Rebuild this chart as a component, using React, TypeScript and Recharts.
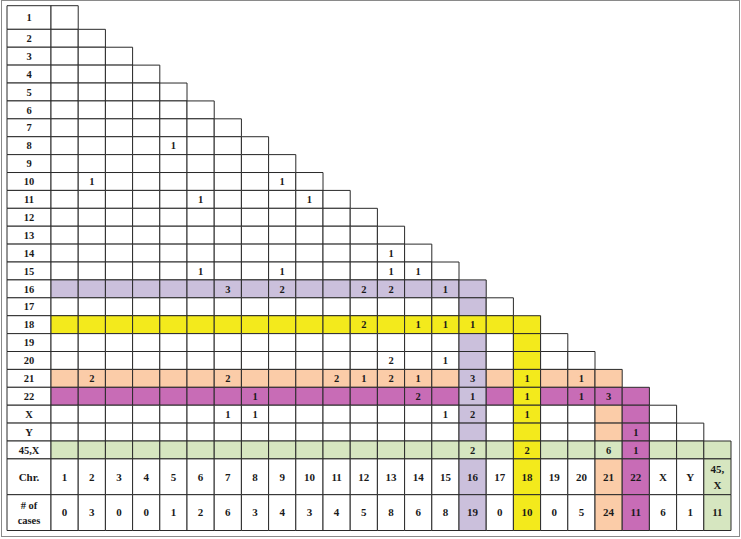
import React from 'react';
import { ScatterChart, Scatter, XAxis, YAxis, ReferenceArea } from 'recharts';

// chromosomes in row / column order
const chromosomes = [
  '1', '2', '3', '4', '5', '6', '7', '8', '9', '10', '11', '12', '13', '14', '15',
  '16', '17', '18', '19', '20', '21', '22', 'X', 'Y', '45,X',
];

// # of cases per chromosome (bottom row)
const caseCounts = [0, 3, 0, 0, 1, 2, 6, 3, 4, 3, 4, 5, 8, 6, 8, 19, 0, 10, 0, 5, 24, 11, 6, 1, 11];

// [row chromosome, column chromosome, count]
const pairCounts: [string, string, number][] = [
  ['8', '5', 1],
  ['10', '2', 1], ['10', '9', 1],
  ['11', '6', 1], ['11', '10', 1],
  ['14', '13', 1],
  ['15', '6', 1], ['15', '9', 1], ['15', '13', 1], ['15', '14', 1],
  ['16', '7', 3], ['16', '9', 2], ['16', '12', 2], ['16', '13', 2], ['16', '15', 1],
  ['18', '12', 2], ['18', '14', 1], ['18', '15', 1], ['18', '16', 1],
  ['20', '13', 2], ['20', '15', 1],
  ['21', '2', 2], ['21', '7', 2], ['21', '11', 2], ['21', '12', 1], ['21', '13', 2], ['21', '14', 1],
  ['21', '16', 3], ['21', '18', 1], ['21', '20', 1],
  ['22', '8', 1], ['22', '14', 2], ['22', '16', 1], ['22', '18', 1], ['22', '20', 1], ['22', '21', 3],
  ['X', '7', 1], ['X', '8', 1], ['X', '15', 1], ['X', '16', 2], ['X', '18', 1],
  ['Y', '22', 1],
  ['45,X', '16', 2], ['45,X', '18', 2], ['45,X', '21', 6], ['45,X', '22', 1],
];

const COLORS = {
  purple: '#cbc0dc',
  yellow: '#f3ea1c',
  peach: '#fbcca8',
  magenta: '#c86cb6',
  green: '#d6e6c0',
  white: '#ffffff',
  line: '#2a2a2a',
  text: '#1a1a1a',
};

const highlight: Record<string, string> = {
  '16': COLORS.purple,
  '18': COLORS.yellow,
  '21': COLORS.peach,
  '22': COLORS.magenta,
  '45,X': COLORS.green,
};

// layout in table units: one column = 1, one row = 1
const LABEL_W = 1.618;
const FIRST_ROW_H = 1.32;
const FOOT_H = 2;
const N = chromosomes.length;
const rowTop = (r: number) => (r === 0 ? 0 : FIRST_ROW_H + r - 1);
const rowBottom = (r: number) => FIRST_ROW_H + r;
const chrTop = rowBottom(N - 1);
const casesTop = chrTop + FOOT_H;
const tableBottom = casesTop + FOOT_H;

// which fill a triangle cell gets (row r, column c, 0-based)
const cellFill = (r: number, c: number) => {
  const rc = chromosomes[r];
  const cc = chromosomes[c];
  if (cc === '18' && r >= 17) return COLORS.yellow;
  if (cc === '22' && r >= 21) return COLORS.magenta;
  if (rc === '45,X') return COLORS.green;
  if (rc === '18') return COLORS.yellow;
  if (cc === '16' && r >= 15) return COLORS.purple;
  if (rc === '22') return COLORS.magenta;
  if (cc === '21' && r >= 20) return COLORS.peach;
  if (rc === '21' || rc === '16') return highlight[rc];
  return COLORS.white;
};

const cells: { x1: number; x2: number; y1: number; y2: number; fill: string }[] = [];
const texts: { x: number; y: number; text: string; size: number }[] = [];

chromosomes.forEach((rc, r) => {
  const y1 = rowTop(r);
  const y2 = rowBottom(r);
  cells.push({ x1: -LABEL_W, x2: 0, y1, y2, fill: COLORS.white });
  texts.push({ x: -LABEL_W / 2, y: (y1 + y2) / 2, text: rc, size: 10.5 });
  for (let c = 0; c <= r; c++) {
    cells.push({ x1: c, x2: c + 1, y1, y2, fill: cellFill(r, c) });
  }
});

pairCounts.forEach(([rc, cc, n]) => {
  const r = chromosomes.indexOf(rc);
  const c = chromosomes.indexOf(cc);
  texts.push({ x: c + 0.5, y: (rowTop(r) + rowBottom(r)) / 2, text: String(n), size: 10.5 });
});

cells.push({ x1: -LABEL_W, x2: 0, y1: chrTop, y2: casesTop, fill: COLORS.white });
cells.push({ x1: -LABEL_W, x2: 0, y1: casesTop, y2: tableBottom, fill: COLORS.white });
texts.push({ x: -LABEL_W / 2, y: (chrTop + casesTop) / 2, text: 'Chr.', size: 11 });
texts.push({ x: -LABEL_W / 2, y: (casesTop + tableBottom) / 2, text: '# of\ncases', size: 10.5 });

chromosomes.forEach((cc, c) => {
  const fill = highlight[cc] ?? COLORS.white;
  cells.push({ x1: c, x2: c + 1, y1: chrTop, y2: casesTop, fill });
  cells.push({ x1: c, x2: c + 1, y1: casesTop, y2: tableBottom, fill });
  texts.push({ x: c + 0.5, y: (chrTop + casesTop) / 2, text: cc === '45,X' ? '45,\nX' : cc, size: 11 });
  texts.push({ x: c + 0.5, y: (casesTop + tableBottom) / 2, text: String(caseCounts[c]), size: 11 });
});

const CellText = (props: any) => {
  const { cx, cy, payload } = props;
  const lines: string[] = payload.text.split('\n');
  const lh = payload.size * 1.45;
  return (
    <text
      x={cx}
      y={cy}
      textAnchor="middle"
      fontFamily='"Liberation Serif", "Times New Roman", serif'
      fontWeight={700}
      fontSize={payload.size}
      fill={COLORS.text}
    >
      {lines.map((l, i) => (
        <tspan key={i} x={cx} dy={i === 0 ? `${0.35 - ((lines.length - 1) * lh) / 2 / payload.size}em` : lh}>
          {l}
        </tspan>
      ))}
    </text>
  );
};

export default function App() {
  return (
    <div style={{ position: 'absolute', left: 0, top: 0, width: 741, height: 539, background: '#fff' }}>
      <div style={{
        position: 'absolute', left: 1, top: 0, width: 737, height: 535,
        border: '1px solid #8a8a8a',
      }} />
      <div style={{ position: 'absolute', left: 0, top: 0 }}>
        <ScatterChart width={741} height={539} margin={{ top: 5.7, right: 10, bottom: 8.5, left: 7 }}>
          <XAxis type="number" dataKey="x" domain={[-LABEL_W, N]} hide allowDataOverflow />
          <YAxis type="number" dataKey="y" domain={[0, tableBottom]} reversed hide allowDataOverflow />
          {cells.map((c, i) => (
            <ReferenceArea
              key={i}
              x1={c.x1}
              x2={c.x2}
              y1={c.y1}
              y2={c.y2}
              fill={c.fill}
              fillOpacity={1}
              stroke={COLORS.line}
              strokeWidth={1}
              ifOverflow="visible"
            />
          ))}
          <Scatter data={texts} shape={<CellText />} isAnimationActive={false} />
        </ScatterChart>
      </div>
    </div>
  );
}
